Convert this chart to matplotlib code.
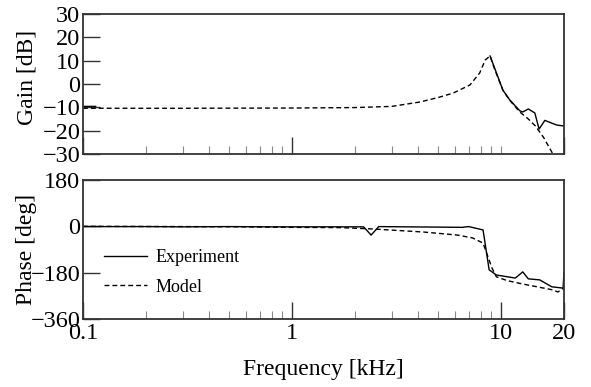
import matplotlib
matplotlib.use("Agg")
import matplotlib.pyplot as plt
import numpy as np

plt.rcParams['font.family'] = ['Liberation Serif', 'DejaVu Serif']

# gain, model (kHz, dB)
gain_model_f = [0.1, 0.3, 1.0, 2.0, 3.0, 4.1, 5.0, 5.9, 7.1, 7.9, 8.4, 8.86, 9.3, 10.2, 11.0, 12.3, 13.5, 14.6, 16.0, 17.7, 19.0, 20.0]
gain_model_db = [-10.4, -10.4, -10.3, -10.1, -9.6, -7.7, -5.8, -3.9, -0.4, 4.7, 10.3, 12.0, 6.5, -2.6, -7.0, -12.0, -15.0, -18.0, -23.0, -30.0, -36.0, -40.0]

# gain, experiment (only the visible parts)
gain_exp_f = [0.1, 0.115, np.nan, 8.86, 9.3, 10.2, 11.0, 12.3, 12.7, 13.5, 14.5, 15.2, 16.2, 17.5, 18.5, 20.0]
gain_exp_db = [-9.6, -9.6, np.nan, 12.0, 7.0, -2.6, -6.8, -11.5, -12.0, -10.7, -12.4, -19.3, -15.6, -16.8, -17.6, -18.0]

# phase, experiment (kHz, deg)
phase_exp_f = [0.1, 0.2, 0.3, 0.5, 0.8, 1.0, 1.5, 2.2, 2.39, 2.6, 3.5, 5.0, 6.5, 7.0, 8.2, 8.77, 9.5, 11.7, 12.7, 13.5, 15.3, 17.5, 19.8, 20.0]
phase_exp_deg = [-1, -1, -2, -1, -2, -2, -2, -2, -34, -1, -2, -3, -4, -1, -14, -169, -189, -201, -177, -204, -208, -235, -240, -178]

# phase, model
phase_model_f = [0.1, 0.3, 0.6, 1.0, 1.7, 2.4, 4.24, 6.2, 7.3, 8.2, 8.66, 9.05, 9.5, 10.7, 12.7, 17.7, 18.7, 20.0]
phase_model_deg = [0, -1, -2, -4, -5, -10, -22, -34, -45, -65, -119, -162, -196, -211, -224, -247, -255, -240]

spine_c = '#333333'
minor_x = [0.2, 0.3, 0.4, 0.5, 0.6, 0.7, 0.8, 0.9, 2, 3, 4, 5, 6, 7, 8, 9]
dash = (0, (3.5, 2.2))

fig = plt.figure(figsize=(5.91, 3.87), dpi=100)
ax1 = fig.add_axes([0.1404, 0.6021, 0.8139, 0.3617])
ax2 = fig.add_axes([0.1404, 0.1757, 0.8139, 0.3592])

ax1.plot(gain_exp_f, gain_exp_db, color='black', lw=1.0, label='Experiment')
ax1.plot(gain_model_f, gain_model_db, color='black', lw=1.0, linestyle=dash, label='Model')
ax2.plot(phase_exp_f, phase_exp_deg, color='black', lw=1.0, label='Experiment')
ax2.plot(phase_model_f, phase_model_deg, color='black', lw=1.0, linestyle=dash, label='Model')

for ax in (ax1, ax2):
    ax.set_xscale('log')
    ax.set_xlim(0.1, 20)
    for s in ax.spines.values():
        s.set_color(spine_c)
        s.set_linewidth(1.3)
    ax.tick_params(axis='both', which='major', direction='in', length=12, width=1.0,
                   color=spine_c, labelsize=17.5, top=False, right=False, pad=2)
    ax.tick_params(axis='x', which='minor', direction='in', length=6, width=0.8,
                   color='#888888', top=False)
    ax.tick_params(axis='x', which='major', pad=3)

ax1.set_xticks([0.1, 1, 20])
ax1.set_xticks(minor_x + [10], minor=True)
ax1.set_xticklabels([])
ax1.set_xticklabels([], minor=True)
ax1.set_ylim(-30, 30)
ax1.set_yticks([-30, -20, -10, 0, 10, 20, 30])
ax1.set_ylabel('Gain [dB]', fontsize=17)
ax1.yaxis.set_label_coords(-0.095, 0.55)

ax2.set_xticks([0.1, 1, 10, 20])
ax2.set_xticklabels(['0.1', '1', '10', '20'])
ax2.set_xticks(minor_x, minor=True)
ax2.set_xticklabels([], minor=True)
ax2.set_ylim(-360, 180)
ax2.set_yticks([-360, -180, 0, 180])
ax2.set_ylabel('Phase [deg]', fontsize=17)
ax2.yaxis.set_label_coords(-0.095, 0.5)
ax2.set_xlabel('Frequency [kHz]', fontsize=17, labelpad=11)

ax2.legend(loc='center left', bbox_to_anchor=(0.044, 0.335), frameon=False,
           fontsize=13, handlelength=2.4, handletextpad=0.45, labelspacing=0.7,
           borderpad=0, borderaxespad=0)

plt.savefig('out.png', dpi=100)
